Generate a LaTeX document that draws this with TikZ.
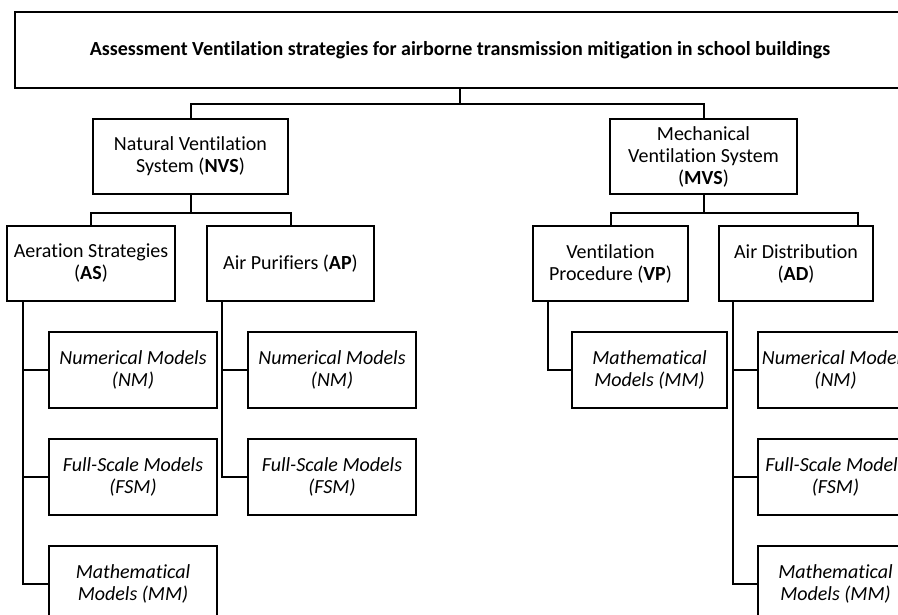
\documentclass[tikz,border=0pt]{standalone}
\usepackage{fontspec}
\setmainfont{Carlito}[Ligatures=NoCommon]

\tikzset{
  box/.style={draw,line width=2pt,align=center,inner sep=0pt,
    minimum height=75pt,font=\fontsize{20}{22}\selectfont},
  leaf/.style={box,minimum height=76pt,font=\fontsize{20}{22}\selectfont\itshape},
  link/.style={line width=2pt}
}

\begin{document}
\begin{tikzpicture}[x=1pt,y=-1pt]
  \useasboundingbox (0,0) rectangle (898,614);
  \clip (0,0) rectangle (898,614);
  \fill[white] (0,0) rectangle (898,614);

  \node[box,minimum width=890pt,minimum height=76pt] (top) at (460,50)
    {\bfseries Assessment Ventilation strategies for airborne transmission mitigation in school buildings};

  \node[box,minimum width=195pt] (nvs) at (190.5,156.5) {Natural Ventilation\\System (\textbf{NVS})};
  \node[box,minimum width=187pt] (mvs) at (703.5,156.5) {Mechanical\\Ventilation System\\(\textbf{MVS})};

  \node[box,minimum width=168pt] (as) at (91,263.5) {Aeration Strategies\\(\textbf{AS})};
  \node[box,minimum width=167pt] (ap) at (290.5,263.5) {Air Purifiers (\textbf{AP})};
  \node[box,minimum width=155pt] (vp) at (610.5,263.5) {Ventilation\\Procedure (\textbf{VP})};
  \node[box,minimum width=154pt] (ad) at (796,263.5) {Air Distribution\\(\textbf{AD})};

  % leaves
  \node[leaf,minimum width=168pt] (asnm) at (133,370) {Numerical Models\\(NM)};
  \node[leaf,minimum width=168pt] (asfsm) at (133,477) {Full-Scale Models\\(FSM)};
  \node[leaf,minimum width=168pt] (asmm) at (133,584) {Mathematical\\Models (MM)};
  \node[leaf,minimum width=168pt] (apnm) at (332,370) {Numerical Models\\(NM)};
  \node[leaf,minimum width=168pt] (apfsm) at (332,477) {Full-Scale Models\\(FSM)};
  \node[leaf,minimum width=155pt] (vpmm) at (649.5,370) {Mathematical\\Models (MM)};
  \node[leaf,minimum width=155pt] (adnm) at (835.5,370) {Numerical Models\\(NM)};
  \node[leaf,minimum width=155pt] (adfsm) at (835.5,477) {Full-Scale Models\\(FSM)};
  \node[leaf,minimum width=155pt] (admm) at (835.5,584) {Mathematical\\Models (MM)};

  \draw[link] (top.south) -- ++(0,15) -| (nvs.north);
  \draw[link] (top.south) -- ++(0,15) -| (mvs.north);
  \draw[link] (nvs.south) -- ++(0,18) -| (as.north);
  \draw[link] (nvs.south) -- ++(0,18) -| (ap.north);
  \draw[link] (mvs.south) -- ++(0,18) -| (vp.north);
  \draw[link] (mvs.south) -- ++(0,18) -| ([xshift=-16pt]ad.north east);

  \foreach \n in {asnm,asfsm,asmm}
    \draw[link] ([xshift=17pt]as.south west) |- (\n.west);
  \foreach \n in {apnm,apfsm}
    \draw[link] ([xshift=16pt]ap.south west) |- (\n.west);
  \draw[link] ([xshift=16pt]vp.south west) |- (vpmm.west);
  \foreach \n in {adnm,adfsm,admm}
    \draw[link] ([xshift=15pt]ad.south west) |- (\n.west);
\end{tikzpicture}
\end{document}
